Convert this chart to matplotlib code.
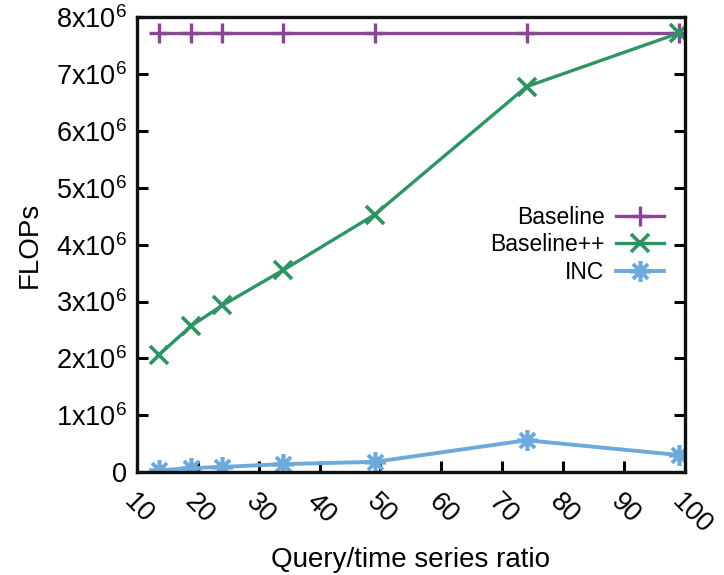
import matplotlib
matplotlib.use("Agg")
import matplotlib.pyplot as plt

plt.rcParams['font.family'] = ['Liberation Sans', 'DejaVu Sans']
plt.rcParams['mathtext.fontset'] = 'custom'
plt.rcParams['mathtext.rm'] = 'Liberation Sans'

# data
ratio = [13.6, 18.9, 24.0, 34.0, 49.1, 74.0, 99.0]
baseline = [7.72e6] * 7
baseline_pp = [2.06e6, 2.57e6, 2.93e6, 3.55e6, 4.53e6, 6.78e6, 7.72e6]
inc = [0.03e6, 0.07e6, 0.09e6, 0.14e6, 0.18e6, 0.56e6, 0.30e6]

x_ticks = [10, 20, 30, 40, 50, 60, 70, 80, 90, 100]
y_ticks = [0, 1e6, 2e6, 3e6, 4e6, 5e6, 6e6, 7e6, 8e6]
y_ticklabels = ['0'] + [r'$\mathregular{%dx10^6}$' % i for i in range(1, 9)]

fig = plt.figure(figsize=(7.24, 5.75), dpi=100)
ax = fig.add_axes([0.189, 0.179, 0.757, 0.791])

ax.plot(ratio, baseline, color='#8c4594', lw=2.4, marker='+', ms=14, mew=2.4,
        label='Baseline')
ax.plot(ratio, baseline_pp, color='#2f9463', lw=2.4, marker='x', ms=13, mew=2.6,
        label='Baseline++')
ax.plot(ratio, inc, color='#6daadb', lw=2.8, marker=(8, 2, 0), ms=15, mew=2.6,
        label='INC')

ax.set_xlim(10, 100)
ax.set_ylim(0, 8e6)
ax.set_xticks(x_ticks)
ax.set_xticklabels([str(t) for t in x_ticks], rotation=-45, ha='left', va='top',
                   rotation_mode='anchor')
ax.set_yticks(y_ticks)
ax.set_yticklabels(y_ticklabels)
ax.tick_params(direction='in', length=8, width=2.2, labelsize=19.5, right=True,
               pad=7)
ax.tick_params(axis='x', pad=12)
for s in ax.spines.values():
    s.set_linewidth(2.4)
    s.set_color('#111111')

ax.set_xlabel('Query/time series ratio', fontsize=20, labelpad=6)
ax.set_ylabel('FLOPs', fontsize=20, labelpad=10)

ax.legend(loc='center right', bbox_to_anchor=(0.962, 0.5), frameon=False,
          markerfirst=False, fontsize=16.5, handlelength=2.1, handletextpad=0.5,
          labelspacing=0.2, borderaxespad=0, borderpad=0)
for t in ax.get_legend().get_texts():
    t.set_ha('right')

fig.savefig('out.png', dpi=100)
